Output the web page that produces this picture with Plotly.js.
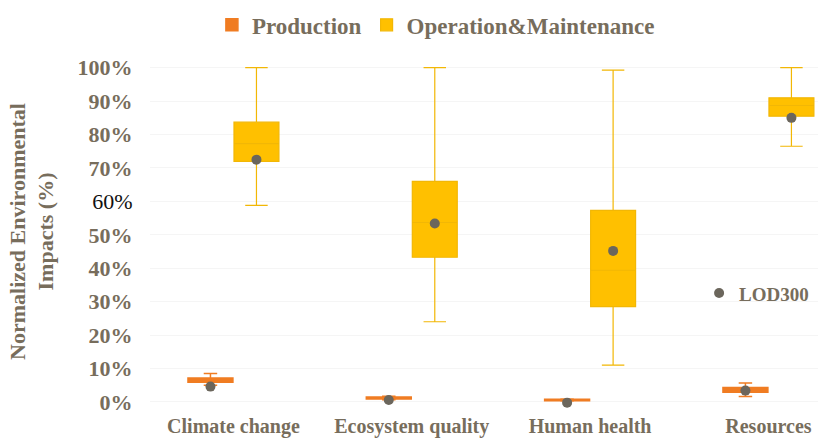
<!DOCTYPE html>
<html>
<head>
<meta charset="utf-8">
<script src="https://cdn.plot.ly/plotly-3.0.1.min.js"></script>
<style>html,body{margin:0;padding:0;background:#fff;}#chart{width:821px;height:440px;}</style>
</head>
<body>
<div id="chart"></div>
<script>
// ---- data (values in %) ----
const categories = ['Climate change', 'Ecosystem quality', 'Human health', 'Resources'];

const prodLower  = [5.0, 0.7, 0.3, 1.6];
const prodQ1     = [5.9, 0.9, 0.4, 2.9];
const prodMedian = [6.4, 1.2, 0.6, 3.6];
const prodQ3     = [7.2, 1.5, 0.8, 4.3];
const prodUpper  = [8.5, 1.7, 0.9, 5.7];
const prodMean   = [4.6, 0.6, -0.2, 3.4];

const omLower  = [58.8, 24.0, 11.0, 76.5];
const omQ1     = [72.0, 43.3, 28.5, 85.5];
const omMedian = [77.3, 53.7, 39.4, 88.7];
const omQ3     = [83.7, 66.0, 57.3, 91.0];
const omUpper  = [100, 100, 99.3, 100];
const omMean   = [72.5, 53.4, 45.2, 85.0];

const yTicks = [0, 10, 20, 30, 40, 50, 60, 70, 80, 90, 100];
const yTickText = ['0%', '10%', '20%', '30%', '40%', '50%',
  '<span style="color:#111111;font-weight:normal">60%</span>',
  '70%', '80%', '90%', '100%'];

// ---- styling ----
const txt = '#776d5c';
const fontFam = '"Liberation Serif", "Times New Roman", serif';
const orange = '#F07C22';
const gold = '#FFC000';
const goldLine = '#F2B705';
const dotColor = '#6b665c';

const idx = categories.map((c, i) => i);
const off = 0.129;
const bw = 0.252;
const xProd = idx.map(i => i - off);
const xOm = idx.map(i => i + off);

const traces = [
  {
    type: 'box', name: 'Production', x: xProd,
    q1: prodQ1, median: prodMedian, q3: prodQ3,
    lowerfence: prodLower, upperfence: prodUpper,
    width: bw, whiskerwidth: 0.3,
    fillcolor: orange, line: {color: orange, width: 1.5},
    boxpoints: false, hoverinfo: 'skip'
  },
  {
    type: 'box', name: 'Operation&Maintenance', x: xOm,
    q1: omQ1, median: omMedian, q3: omQ3,
    lowerfence: omLower, upperfence: omUpper,
    width: bw, whiskerwidth: 0.5,
    fillcolor: gold, line: {color: goldLine, width: 1.2},
    boxpoints: false, hoverinfo: 'skip'
  },
  {
    type: 'scatter', mode: 'markers', name: 'LOD300', x: xProd, y: prodMean,
    marker: {color: dotColor, size: 10}, legend: 'legend2', legendgroup: 'lod'
  },
  {
    type: 'scatter', mode: 'markers', name: 'LOD300', x: xOm, y: omMean,
    marker: {color: dotColor, size: 10}, legend: 'legend2', legendgroup: 'lod', showlegend: false
  }
];

const layout = {
  width: 821, height: 440,
  margin: {l: 150, r: 3, t: 47, b: 28},
  paper_bgcolor: '#ffffff', plot_bgcolor: '#ffffff',
  font: {family: fontFam, color: txt, size: 18, weight: 'bold'},
  showlegend: true,
  legend: {
    orientation: 'h', xref: 'paper', yref: 'paper',
    x: 0.428, y: 1.132, xanchor: 'center', yanchor: 'top',
    font: {family: fontFam, size: 23, color: txt, weight: 'bold'},
    traceorder: 'normal', itemwidth: 30
  },
  legend2: {
    xref: 'paper', yref: 'paper',
    x: 0.822, y: 0.329, xanchor: 'left', yanchor: 'middle',
    font: {family: fontFam, size: 19, color: txt, weight: 'bold'},
    bgcolor: 'rgba(0,0,0,0)', itemwidth: 30
  },
  xaxis: {
    range: [-0.468, 3.278],
    tickvals: idx, ticktext: categories,
    showgrid: false, zeroline: false, showline: false,
    ticks: '',
    tickfont: {family: fontFam, size: 20, color: txt, weight: 'bold'}
  },
  yaxis: {
    range: [-3, 105],
    tickvals: yTicks, ticktext: yTickText,
    showgrid: true, gridcolor: '#f5f5f5', gridwidth: 1,
    zeroline: false, showline: false,
    ticks: 'outside', ticklen: 12, tickcolor: 'rgba(0,0,0,0)',
    tickfont: {family: fontFam, size: 22, color: txt, weight: 'bold'},
    title: {
      text: '<b>Normalized Environmental</b><br><b>Impacts (%)</b>',
      font: {family: fontFam, size: 22, color: txt, weight: 'bold'},
      standoff: 17
    }
  }
};

Plotly.newPlot('chart', traces, layout, {displayModeBar: false, staticPlot: true});
</script>
</body>
</html>
